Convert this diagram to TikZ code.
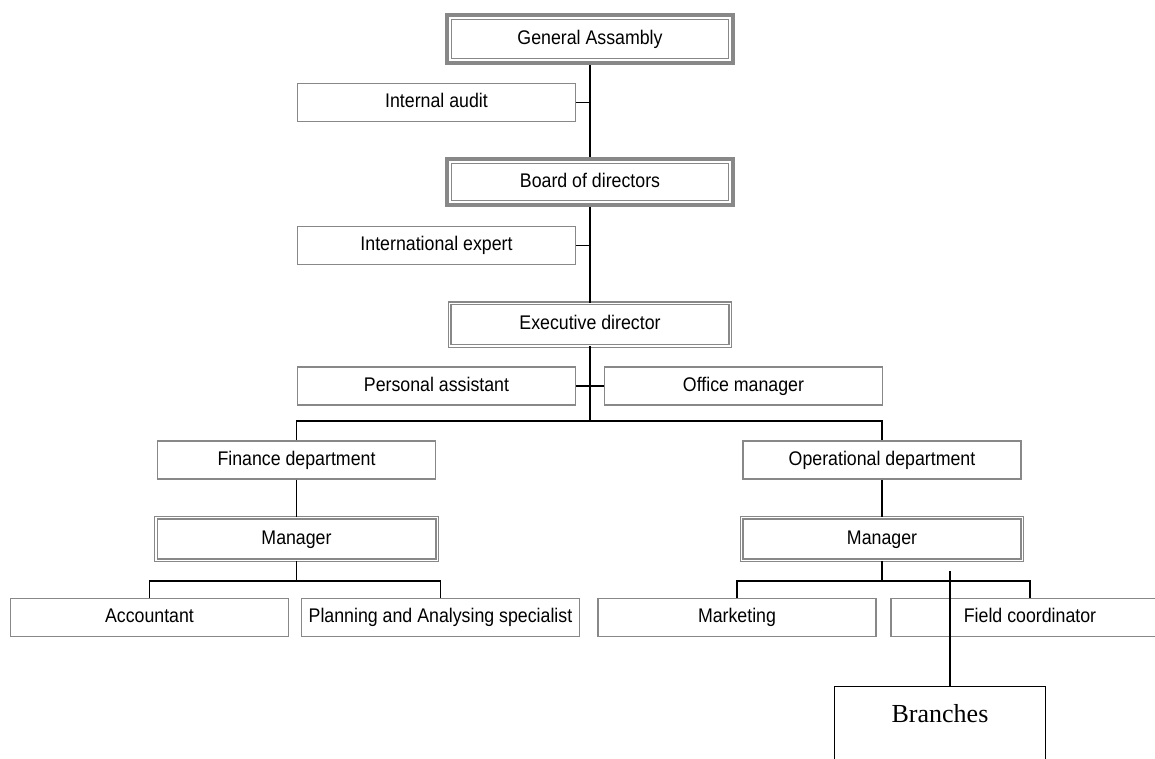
\documentclass[tikz,border=0pt]{standalone}
\usepackage{fontspec}
\setmainfont{Liberation Sans}[FakeStretch=0.9]
\newfontfamily\branchfont{Liberation Serif}
\usepackage{xcolor}
\usetikzlibrary{calc}
\definecolor{boxgray}{HTML}{888888}
\tikzset{
    unit/.style={draw=boxgray, line width=1pt, fill=white, inner sep=0pt,
        minimum width=208.5pt, minimum height=28.5pt,
        text height=10.5pt, text depth=3pt,
        font=\fontsize{14.8}{17}\selectfont}, % plain grey box
    head/.style={unit, line width=3pt, minimum width=214.5pt, minimum height=#1,
        path picture={\draw[boxgray, line width=1.1pt]
            ($(path picture bounding box.south west)+(3.56pt,3.56pt)$) rectangle
            ($(path picture bounding box.north east)-(3.56pt,3.56pt)$);}}, % heavy double frame
    chief/.style={unit, line width=0.9pt, double=white, double distance=1pt,
        minimum width=#1, minimum height=32pt}, % thin double frame
    link/.style={draw, line width=1pt}, % connectors
}

\begin{document}
\begin{tikzpicture}[x=0.75pt, y=-0.75pt]
    \useasboundingbox (0,0) rectangle (1155,758);
    \clip (0,0) rectangle (1155,758);

    % Nodes
    \node[head=36pt] (ga) at (590,39) {General Assambly};
    \node[unit] (ia) at (436.5,102.5) {Internal audit};
    \node[head=34.5pt] (bd) at (590,182) {Board of directors};
    \node[unit] (ie) at (436.5,245.5) {International expert};
    \node[chief=210.4pt] (ed) at (590,324.5) {Executive director};
    \node[unit] (pa) at (436.5,386) {Personal assistant};
    \node[unit] (om) at (743.5,386) {Office manager};
    \node[unit] (fd) at (296.5,460) {Finance department};
    \node[unit] (od) at (882,460) {Operational department};
    \node[chief=211pt] (mgl) at (296.5,539) {Manager};
    \node[chief=210.4pt] (mgr) at (882,539) {Manager};
    \node[unit] (acc) at (149.5,617.5) {Accountant};
    \node[unit] (pas) at (440.5,617.5) {Planning and Analysing specialist};
    \node[unit] (mkt) at (737,617.5) {Marketing};
    \node[unit] (fc) at (1030,617.5) {Field coordinator};
    \node[draw, line width=1.1pt, anchor=north, inner sep=0pt,
          minimum width=158pt, minimum height=75pt,
          text height=12.75pt, text depth=33.75pt,
          font=\branchfont\fontsize{19.5}{22}\selectfont] (br) at (940,686) {Branches};

    \coordinate (split) at (590,421);
    \coordinate (lfork) at (296.5,581);
    \coordinate (rfork) at (882,581);
    \coordinate (brk) at (950,571);

    % Connectors
    \draw[link] (ga) -- (bd);
    \draw[link] (bd) -- (ed);
    \draw[link] (ia.east) -- (ia.east -| ga.south);
    \draw[link] (ie.east) -- (ie.east -| bd.south);
    \draw[link] (ed.south) -- (split);
    \draw[link] (pa.east) -- (om.west);
    \draw[link] (fd.north) |- (split) -| (od.north);
    \draw[link] (fd) -- (mgl);
    \draw[link] (od) -- (mgr);
    \draw[link] (mgl.south) -- (lfork);
    \draw[link] (acc.north) |- (lfork) -| (pas.north);
    \draw[link] (mgr.south) -- (rfork);
    \draw[link] (mkt.north) |- (rfork) -| (fc.north);
    \draw[link] (brk) -- (brk |- br.north);
\end{tikzpicture}
\end{document}
